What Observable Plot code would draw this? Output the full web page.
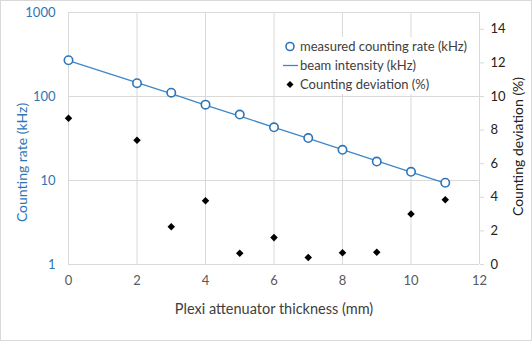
<!DOCTYPE html>
<html>
<head>
<meta charset="utf-8">
<script src="https://cdn.jsdelivr.net/npm/d3@7"></script>
<script src="https://cdn.jsdelivr.net/npm/@observablehq/plot@0.6"></script>
<style>
  body { margin: 0; background: #fff; }
  #wrap { position: relative; width: 532px; height: 341px; font-family: Lato, "Open Sans", sans-serif; }
  #border { position: absolute; left: 0; top: 0; width: 530px; height: 339px; border: 1px solid #d9d9d9; pointer-events: none; }
  #legend { position: absolute; left: 282px; top: 37px; width: 190px; background: #fff; color: #404040; font-size: 13px; }
  .row { position: relative; height: 19px; line-height: 19px; padding-left: 18px; white-space: nowrap; }
  .row svg { position: absolute; left: 0; top: 0; }
</style>
</head>
<body>
<div id="wrap"></div>
<script>
const thickness = [0, 2, 3, 4, 5, 6, 7, 8, 9, 10, 11];
const measured = [270, 144, 111, 80, 61, 43, 32, 23.2, 16.8, 12.7, 9.4];
const beam = [268, 146, 108, 79, 58.5, 43, 31.7, 23.3, 17.1, 12.6, 9.3];
const deviation = [8.7, 7.4, 2.25, 3.8, 0.67, 1.6, 0.42, 0.7, 0.73, 3.0, 3.86];
const xTicks = [0, 2, 4, 6, 8, 10, 12];
const leftTicks = [1, 10, 100, 1000];
const rightTicks = [0, 2, 4, 6, 8, 10, 12, 14];
const rightMax = 15;

const blue = "#2E75B6";
const lineBlue = "#3D87C9";
const grid = "#d9d9d9";

// map the deviation (0..15 %) onto the log primary scale (1..1000)
const devToY = d => Math.pow(10, d / rightMax * 3);

const rows = thickness.map((t, i) => ({t, measured: measured[i], beam: beam[i], dev: devToY(deviation[i])}));
const rightRows = rightTicks.map(d => ({y: devToY(d), label: String(d)}));

const chart = Plot.plot({
  width: 532,
  height: 341,
  marginLeft: 68,
  marginRight: 53,
  marginTop: 12,
  marginBottom: 77,
  style: {fontFamily: "Lato, 'Open Sans', sans-serif", fontSize: "13px", background: "transparent"},
  x: {domain: [0, 12]},
  y: {type: "log", domain: [1, 1000]},
  marks: [
    Plot.gridX(xTicks, {stroke: grid, strokeOpacity: 1}),
    Plot.gridY(leftTicks, {stroke: grid, strokeOpacity: 1}),
    Plot.axisX(xTicks, {tickSize: 0, tickPadding: 11, fill: "#595959", fontSize: 13, label: null}),
    Plot.axisY(leftTicks, {anchor: "left", tickSize: 0, tickPadding: 13, fill: blue, fontSize: 13, tickFormat: d3.format("d"), label: null}),
    Plot.axisY(rightRows.map(r => r.y), {anchor: "right", tickSize: 4, stroke: grid, strokeOpacity: 1, tickFormat: () => "", label: null}),
    Plot.text(rightRows, {y: "y", text: "label", frameAnchor: "right", dx: 11, textAnchor: "start", fill: "#222", fontSize: 13}),
    Plot.line(rows, {x: "t", y: "beam", stroke: lineBlue, strokeWidth: 1.3}),
    Plot.dot(rows, {x: "t", y: "measured", r: 4.2, stroke: blue, strokeWidth: 1.6, fill: "#fff"}),
    Plot.dot(rows, {x: "t", y: "dev", symbol: "diamond2", r: 3.4, fill: "#000", stroke: "none"}),
    Plot.text(["Plexi attenuator thickness (mm)"], {frameAnchor: "bottom", dy: 49, fill: "#404040", fontSize: 14.5}),
    Plot.text(["Counting rate (kHz)"], {frameAnchor: "left", textAnchor: "middle", dx: -46, dy: 24, rotate: -90, fill: blue, fontSize: 14}),
    Plot.text(["Counting deviation (%)"], {frameAnchor: "right", textAnchor: "middle", dx: 39, dy: 8, rotate: -90, fill: "#222", fontSize: 14})
  ]
});

const wrap = document.getElementById("wrap");
wrap.appendChild(chart);

const legend = document.createElement("div");
legend.id = "legend";
legend.innerHTML = `
  <div class="row"><svg width="16" height="19"><circle cx="8" cy="9.5" r="4" fill="#fff" stroke="${blue}" stroke-width="1.6"/></svg>measured counting rate (kHz)</div>
  <div class="row"><svg width="16" height="19"><line x1="1" x2="16" y1="9.5" y2="9.5" stroke="${lineBlue}" stroke-width="1.3"/></svg>beam intensity (kHz)</div>
  <div class="row"><svg width="16" height="19"><path d="M8 6 L11.5 9.5 L8 13 L4.5 9.5 Z" fill="#000"/></svg>Counting deviation (%)</div>`;
wrap.appendChild(legend);

const border = document.createElement("div");
border.id = "border";
wrap.appendChild(border);
</script>
</body>
</html>
